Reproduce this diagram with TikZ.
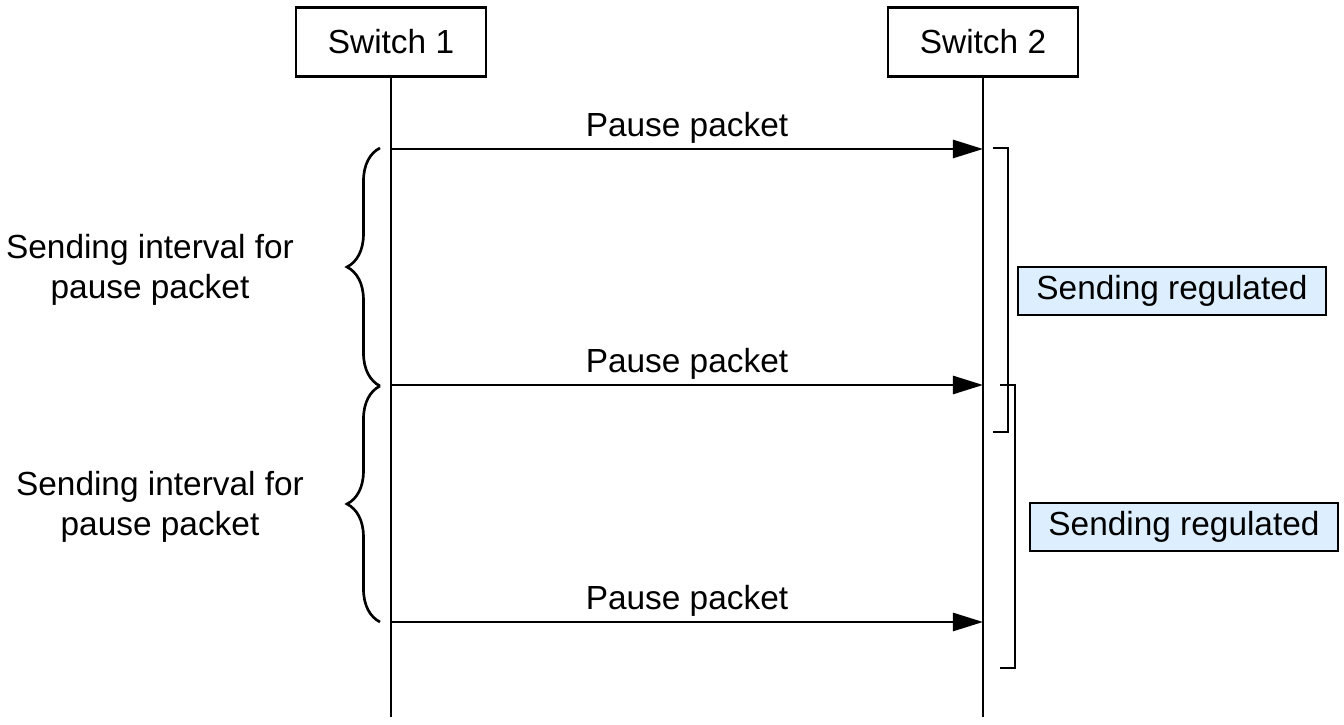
\documentclass[tikz,border=0pt]{standalone}
\usepackage{fontspec}
\setmainfont{Liberation Sans}
\usepackage{xcolor}
\usetikzlibrary{arrows.meta,decorations.pathreplacing}
\definecolor{regblue}{RGB}{221,238,255}

\begin{document}
\begin{tikzpicture}[x=0.01cm, y=-0.01cm, line width=0.75pt,
  font=\fontsize{9.5}{11.2}\selectfont,
  switch/.style={rectangle, draw, minimum width=1.9cm, minimum height=0.69cm},
  msg/.style={-{Triangle[length=0.3cm, width=0.18cm]}},
  regbox/.style={rectangle, draw, fill=regblue, minimum width=3.08cm, minimum height=0.48cm, inner sep=0pt},
  interval/.style={align=center},
  curly/.style={decorate, decoration={brace, amplitude=0.33cm}}]
\useasboundingbox (0,0) rectangle (1344,725);

\node[switch] (sw1) at (391,42) {Switch 1};
\node[switch] (sw2) at (983,42) {Switch 2};
\coordinate (end1) at (391,717);
\coordinate (end2) at (983,717);

\draw (sw1) -- (end1);
\draw (sw2) -- (end2);

% pause packets
\coordinate (a1) at (391,149);
\coordinate (b1) at (983,149);
\coordinate (a2) at (391,385);
\coordinate (b2) at (983,385);
\coordinate (a3) at (391,622);
\coordinate (b3) at (983,622);
\draw[msg] (a1) -- node[above=-0.07cm] {Pause packet} (b1);
\draw[msg] (a2) -- node[above=-0.07cm] {Pause packet} (b2);
\draw[msg] (a3) -- node[above=-0.07cm] {Pause packet} (b3);

% sending intervals
\coordinate (ba) at (380,148);
\coordinate (bb) at (380,386);
\coordinate (bc) at (380,622);
\draw[curly] (bb) -- (ba);
\draw[curly] (bc) -- (bb);
\node[interval] (int1) at (150,270) {Sending interval for\\pause packet};
\node[interval] (int2) at (160,507) {Sending interval for\\pause packet};

% regulated periods
\draw (993,148) -- (1008,148) -- (1008,432) -- (993,432);
\draw (1000,385) -- (1015,385) -- (1015,668) -- (1000,668);
\node[regbox] (reg1) at (1172,291) {Sending regulated};
\node[regbox] (reg2) at (1184,527) {Sending regulated};
\end{tikzpicture}
\end{document}
